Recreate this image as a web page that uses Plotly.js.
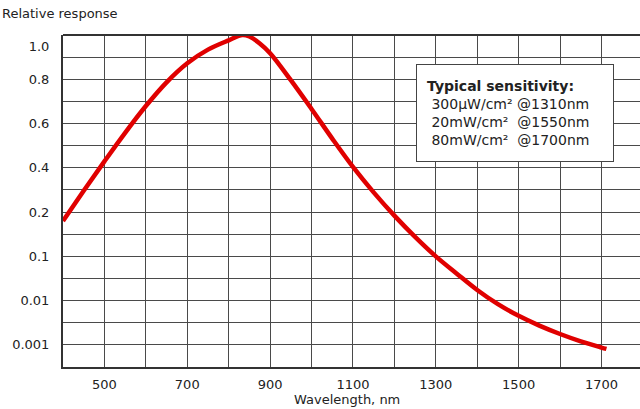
<!DOCTYPE html>
<html>
<head>
<meta charset="utf-8">
<script src="https://cdn.plot.ly/plotly-3.0.1.min.js"></script>
<style>html,body{margin:0;padding:0;background:#fff;}#chart{width:640px;height:409px;}</style>
</head>
<body>
<div id="chart"></div>
<script>
// Data
const wavelength = [400, 450, 500, 550, 600, 650, 700, 750, 800, 833, 850, 875, 900, 950, 1000, 1050, 1100, 1150, 1200, 1250, 1300, 1350, 1400, 1450, 1500, 1550, 1600, 1650, 1700, 1712];
const response   = [0.18, 0.296, 0.429, 0.558, 0.679, 0.786, 0.872, 0.934, 0.976, 1.0, 0.993, 0.962, 0.918, 0.796, 0.666, 0.532, 0.404, 0.289, 0.192, 0.144, 0.1, 0.0412, 0.0174, 0.0083, 0.00452, 0.00272, 0.00176, 0.0012, 0.00087, 0.00081];
const yTickValues = [0.001, 0.01, 0.1, 0.2, 0.4, 0.6, 0.8, 1.0];
const yTickLabels = ["0.001", "0.01", "0.1", "0.2", "0.4", "0.6", "0.8", "1.0"];
const xTickValues = [500, 700, 900, 1100, 1300, 1500, 1700];
const xTickLabels = ["500", "700", "900", "1100", "1300", "1500", "1700"];
const noteLines = ["Typical sensitivity:", "300\u00B5W/cm\u00B2 @1310nm", "20mW/cm\u00B2 \u00A0@1550nm", "80mW/cm\u00B2 \u00A0@1700nm"];

// The chart's y axis is piecewise: linear 0.2..1.0, then decades below 0.1
function toAxis(v) {
  if (v >= 0.2) return 7 + (v - 0.2) * 10;
  if (v >= 0.1) return 5 + (v - 0.1) * 20;
  return 5 + 2 * Math.log10(v / 0.1);
}

const FONT = "DejaVu Sans, Verdana, sans-serif";
const TXT = "#222";
const GRID = "#4a4a4a";

const trace = {
  x: wavelength,
  y: response.map(toAxis),
  type: "scatter",
  mode: "lines",
  line: {color: "#e00000", width: 4.5, shape: "spline", smoothing: 1},
  hoverinfo: "skip",
  cliponaxis: false
};

const layout = {
  width: 640, height: 409,
  margin: {l: 63, r: 0, t: 35, b: 42, pad: 0},
  paper_bgcolor: "#fff", plot_bgcolor: "#fff",
  showlegend: false,
  font: {family: FONT, size: 13, color: TXT},
  xaxis: {
    range: [400, 1793],
    tickmode: "array", tickvals: xTickValues, ticktext: xTickLabels,
    showgrid: false, zeroline: false,
    showline: true, linecolor: "#333", linewidth: 2,
    ticks: "", ticklabelstandoff: 4,
    tickfont: {family: FONT, size: 13, color: TXT},
    minor: {tickmode: "linear", tick0: 400, dtick: 100, showgrid: true, gridcolor: GRID, gridwidth: 1, ticks: ""},
    fixedrange: true
  },
  yaxis: {
    range: [0, 15],
    tickmode: "array",
    tickvals: yTickValues.map(v => Math.min(toAxis(v), 14.5)),
    ticktext: yTickLabels,
    showgrid: false, zeroline: false,
    showline: true, linecolor: "#333", linewidth: 2,
    ticks: "", ticklabelstandoff: 9,
    tickfont: {family: FONT, size: 13, color: TXT},
    minor: {tickmode: "linear", tick0: 0, dtick: 1, showgrid: true, gridcolor: GRID, gridwidth: 1, ticks: ""},
    fixedrange: true
  },
  shapes: [
    {type: "line", xref: "paper", yref: "paper", x0: 0, x1: 1, y0: 1, y1: 1, line: {color: "#333", width: 2}}
  ],
  annotations: [
    {text: "Relative response", xref: "paper", yref: "paper", x: -63/577, y: 1 + 21/331.7,
     xanchor: "left", yanchor: "middle", showarrow: false, font: {family: FONT, size: 13, color: TXT}},
    {text: "Wavelength, nm", xref: "paper", yref: "paper", x: (347-63)/577, y: -32/331.7,
     xanchor: "center", yanchor: "middle", showarrow: false, font: {family: FONT, size: 13, color: TXT}},
    {text: "\u2002<b>" + noteLines[0] + "</b><br>\u2002\u00A0" + noteLines.slice(1).join("<br>\u2002\u00A0"),
     xref: "paper", yref: "paper", x: (415.7-63)/577, y: 1 - (64.3-35)/331.7,
     xanchor: "left", yanchor: "top", align: "left", showarrow: false,
     width: 190, height: 90, borderpad: 3,
     bgcolor: "#fff", bordercolor: "#444", borderwidth: 1,
     font: {family: FONT, size: 14, color: TXT}}
  ]
};

Plotly.newPlot("chart", [trace], layout, {displayModeBar: false, staticPlot: true});
</script>
</body>
</html>
